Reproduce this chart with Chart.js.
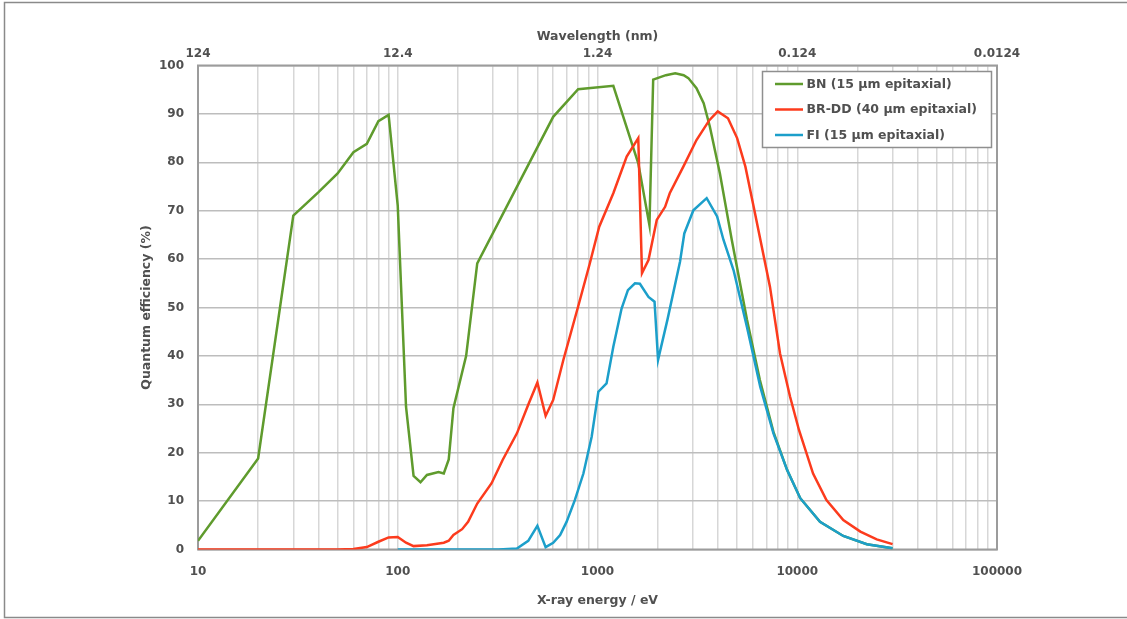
<!DOCTYPE html>
<html>
<head>
<meta charset="utf-8">
<title>Quantum efficiency vs X-ray energy</title>
<script src="https://cdn.jsdelivr.net/npm/chart.js@4.4.1/dist/chart.umd.min.js"></script>
<style>
  html, body { margin: 0; padding: 0; background: #ffffff; }
  canvas { display: block; }
</style>
</head>
<body>
<canvas id="qe" width="1127" height="619"></canvas>
<script>
// BN sensor, 15 µm epitaxial: X-ray energy (eV) and quantum efficiency (%)
const bnEnergy = [10, 20, 30, 40, 50, 60, 70, 80, 90, 100, 110, 120, 130, 140, 160, 170, 180, 190, 220, 250,
  600, 800, 1200, 1600, 1820, 1900, 2200, 2450, 2700, 2850, 3130, 3400, 3650, 4100, 4700, 5600, 6500, 7600,
  8900, 10350, 13000, 17000, 22300, 30000];
const bnQE = [1.8, 18.8, 69, 73.8, 77.7, 82.1, 83.8, 88.5, 89.8, 71, 29.5, 15.2, 13.9, 15.4, 16.0, 15.7, 18.6, 29.2, 40, 59.1,
  89.4, 95.1, 95.8, 79.8, 67, 97.1, 98, 98.4, 98, 97.4, 95.3, 92.2, 87.4, 77.7, 64, 47.5, 35, 24.3,
  16.4, 10.6, 5.7, 2.8, 1.1, 0.25];

// BR-DD sensor, 40 µm epitaxial
const brEnergy = [10, 50, 60, 70, 80, 90, 100, 110, 120, 140, 170, 180, 190, 210, 225, 250, 295, 335, 395, 450,
  500, 550, 600, 675, 800, 915, 1020, 1200, 1400, 1600, 1670, 1800, 1980, 2180, 2300, 2690, 3130, 3630, 4000,
  4500, 5000, 5500, 6050, 7300, 8200, 9200, 10200, 12000, 14000, 17000, 20700, 25000, 30000];
const brQE = [0, 0, 0.1, 0.5, 1.6, 2.5, 2.6, 1.4, 0.7, 0.9, 1.4, 1.8, 3, 4.2, 5.7, 9.5, 13.7, 18.5, 24, 29.9,
  34.5, 27.6, 30.9, 39.2, 50.2, 59.1, 66.7, 73.6, 81.2, 85, 57.1, 59.8, 68.1, 70.8, 73.6, 79.1, 84.6, 88.7, 90.5,
  89.1, 85, 79.1, 70.8, 54.3, 40.5, 31.6, 24.7, 15.7, 10.2, 6.1, 3.7, 2.1, 1.1];

// FI sensor, 15 µm epitaxial
const fiEnergy = [100, 320, 395, 450, 500, 550, 600, 650, 700, 770, 850, 935, 1010, 1110, 1200, 1320, 1420, 1540,
  1630, 1800, 1930, 2010, 2240, 2590, 2720, 3020, 3520, 3970, 4270, 4800, 5600, 6530, 7600, 8900, 10350,
  13000, 17000, 22300, 30000];
const fiQE = [0, 0, 0.2, 1.8, 4.9, 0.5, 1.4, 3, 5.7, 10.2, 15.7, 23.3, 32.6, 34.3, 41.9, 49.8, 53.6, 55,
  54.9, 52.2, 51.2, 39.2, 47.5, 59.5, 65.3, 70.1, 72.6, 68.8, 64, 57.7, 46, 33.6, 24, 16.4, 10.6,
  5.7, 2.8, 1.1, 0.25];

const seriesLabels = ['BN (15 µm epitaxial)', 'BR-DD (40 µm epitaxial)', 'FI (15 µm epitaxial)'];
const seriesColors = ['#5f9b2d', '#fc3b1d', '#1c9fca'];

// Axis labelling: energy decades on the bottom, matching wavelengths on top
const energyTicks = [10, 100, 1000, 10000, 100000];
const energyLabels = ['10', '100', '1000', '10000', '100000'];
const wavelengthLabels = ['124', '12.4', '1.24', '0.124', '0.0124'];

const axisTitleX = 'X-ray energy / eV';
const axisTitleTop = 'Wavelength (nm)';
const axisTitleY = 'Quantum efficiency (%)';

// 1-2-...-9 gridlines for every decade of the log axis
const energyGrid = [];
for (let d = 10; d < 100000; d *= 10) {
  for (let m = 1; m <= 9; m++) energyGrid.push(m * d);
}
energyGrid.push(100000);

function decadeIndex(value) {
  return energyTicks.findIndex(t => Math.abs(value - t) / t < 1e-6);
}

const toPoints = (xs, ys) => xs.map((x, i) => ({ x, y: ys[i] }));

const FONT = '"DejaVu Sans", "Liberation Sans", Arial, sans-serif';
const TEXT = '#505050';

// Frame around the plotting area, drawn above gridlines and below the curves
const plotFrame = {
  id: 'plotFrame',
  beforeDatasetsDraw(chart) {
    const { ctx, chartArea: a } = chart;
    ctx.save();
    ctx.strokeStyle = '#9c9c9c';
    ctx.lineWidth = 2;
    ctx.strokeRect(a.left, a.top, a.right - a.left, a.bottom - a.top);
    ctx.restore();
  }
};

// Boxed legend in the upper right corner of the plot
const boxLegend = {
  id: 'boxLegend',
  afterDatasetsDraw(chart) {
    const { ctx } = chart;
    const x = 762.5, y = 71.5, w = 229, h = 76;
    ctx.save();
    ctx.fillStyle = '#ffffff';
    ctx.fillRect(x, y, w, h);
    ctx.strokeStyle = '#8f8f8f';
    ctx.lineWidth = 1.5;
    ctx.strokeRect(x, y, w, h);
    ctx.font = 'bold 12.5px ' + FONT;
    ctx.textBaseline = 'middle';
    ctx.textAlign = 'left';
    chart.data.datasets.forEach((ds, i) => {
      const cy = 84 + i * 25.5;
      ctx.strokeStyle = ds.borderColor;
      ctx.lineWidth = 2.5;
      ctx.beginPath();
      ctx.moveTo(775, cy);
      ctx.lineTo(803, cy);
      ctx.stroke();
      ctx.fillStyle = TEXT;
      ctx.fillText(ds.label, 806.5, cy + 0.5);
    });
    ctx.restore();
  }
};

// Thin border around the whole figure
const figureBorder = {
  id: 'figureBorder',
  afterDraw(chart) {
    const { ctx } = chart;
    ctx.save();
    ctx.strokeStyle = '#8a8a8a';
    ctx.lineWidth = 1.5;
    ctx.beginPath();
    ctx.moveTo(1127, 2.5);
    ctx.lineTo(4.5, 2.5);
    ctx.lineTo(4.5, 617.5);
    ctx.lineTo(1127, 617.5);
    ctx.stroke();
    ctx.restore();
  }
};

const datasets = [
  { label: seriesLabels[0], data: toPoints(bnEnergy, bnQE), borderColor: seriesColors[0], order: 3 },
  { label: seriesLabels[1], data: toPoints(brEnergy, brQE), borderColor: seriesColors[1], order: 2 },
  { label: seriesLabels[2], data: toPoints(fiEnergy, fiQE), borderColor: seriesColors[2], order: 1 }
].map(d => Object.assign(d, {
  backgroundColor: d.borderColor,
  borderWidth: 2.5,
  pointRadius: 0,
  tension: 0,
  fill: false,
  xAxisID: 'x',
  yAxisID: 'y'
}));

new Chart(document.getElementById('qe'), {
  type: 'line',
  data: { datasets },
  plugins: [plotFrame, boxLegend, figureBorder],
  options: {
    responsive: false,
    animation: false,
    devicePixelRatio: 1,
    layout: { padding: { top: 29, bottom: 11, left: 139, right: 130 } },
    plugins: {
      legend: { display: false },
      tooltip: { enabled: false }
    },
    scales: {
      x: {
        type: 'logarithmic',
        position: 'bottom',
        min: 10,
        max: 100000,
        afterBuildTicks: s => { s.ticks = energyGrid.map(v => ({ value: v })); },
        afterFit: s => { s.height = 58.5; },
        grid: { color: '#d7d7d7', lineWidth: 1.5, drawTicks: false },
        border: { display: false },
        ticks: {
          autoSkip: false,
          maxRotation: 0,
          padding: 15,
          color: TEXT,
          font: { family: FONT, size: 12, weight: 'bold' },
          callback: v => { const i = decadeIndex(v); return i >= 0 ? energyLabels[i] : ''; }
        },
        title: {
          display: true,
          text: axisTitleX,
          color: TEXT,
          padding: { top: 0, bottom: 0 },
          font: { family: FONT, size: 12.5, weight: 'bold' }
        }
      },
      x2: {
        type: 'logarithmic',
        position: 'top',
        min: 10,
        max: 100000,
        afterBuildTicks: s => { s.ticks = energyTicks.map(v => ({ value: v })); },
        afterFit: s => { s.height = 36.5; },
        grid: { display: false, drawTicks: false },
        border: { display: false },
        ticks: {
          autoSkip: false,
          maxRotation: 0,
          padding: 4,
          color: TEXT,
          font: { family: FONT, size: 12, weight: 'bold' },
          callback: v => { const i = decadeIndex(v); return i >= 0 ? wavelengthLabels[i] : ''; }
        },
        title: {
          display: true,
          text: axisTitleTop,
          color: TEXT,
          padding: { top: 0, bottom: 0 },
          font: { family: FONT, size: 12.5, weight: 'bold' }
        }
      },
      y: {
        type: 'linear',
        position: 'left',
        min: 0,
        max: 100,
        afterFit: s => { s.width = 59; },
        grid: { color: '#bdbdbd', lineWidth: 1.5, drawTicks: false },
        border: { display: false },
        ticks: {
          stepSize: 10,
          padding: 14,
          color: TEXT,
          font: { family: FONT, size: 12, weight: 'bold' }
        },
        title: {
          display: true,
          text: axisTitleY,
          color: TEXT,
          padding: { top: 0, bottom: 0 },
          font: { family: FONT, size: 12.5, weight: 'bold' }
        }
      }
    }
  }
});
</script>
</body>
</html>
